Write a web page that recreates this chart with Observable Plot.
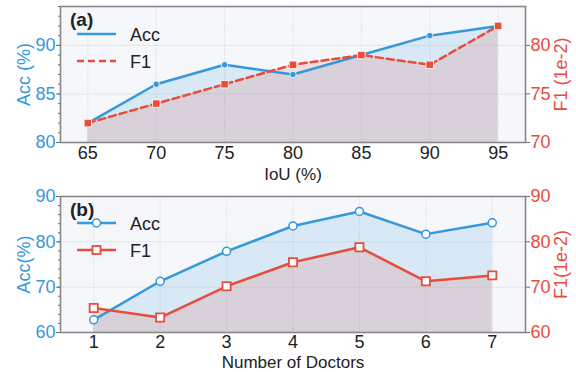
<!DOCTYPE html>
<html>
<head>
<meta charset="utf-8">
<script src="https://cdn.jsdelivr.net/npm/d3@7"></script>
<script src="https://cdn.jsdelivr.net/npm/@observablehq/plot@0.6"></script>
<style>
  html, body { margin: 0; padding: 0; background: white; }
  #chart svg { display: block; }
</style>
</head>
<body>
<div id="chart"></div>
<script>
// ---- Data ----
const iou = [65, 70, 75, 80, 85, 90, 95];
const accA = [82, 86, 88, 87, 89, 91, 92];
const f1A = [72, 74, 76, 78, 79, 78, 82];

const doctors = [1, 2, 3, 4, 5, 6, 7];
const accB = [62.8, 71.3, 77.9, 83.5, 86.7, 81.7, 84.2];
const f1B = [65.4, 63.3, 70.2, 75.5, 78.8, 71.3, 72.6];

const accTicksA = [80, 85, 90];
const f1TicksA = [70, 75, 80];
const accTicksB = [60, 70, 80, 90];
const f1TicksB = [60, 70, 80, 90];

const BLUE = "#3498db";
const RED = "#e74c3c";
const FONT = "'Liberation Sans', Arial, sans-serif";

function panel(o) {
  const data = o.x.map((d, i) => ({x: d, acc: o.acc[i], f1: o.f1[i] + o.f1Offset}));
  const y0 = o.yDomain[0];
  const minor = d3.range(o.yDomain[0], o.yDomain[1] + 0.001, o.minorStep);
  const svg = Plot.plot({
    width: 576,
    height: o.height,
    marginLeft: 60,
    marginRight: 51,
    marginTop: o.marginTop,
    marginBottom: o.marginBottom,
    style: {fontFamily: FONT, fontSize: "18px", background: "white", overflow: "visible"},
    x: {domain: o.xDomain},
    y: {domain: o.yDomain},
    marks: [
      Plot.frame({fill: "#f5f7fa", stroke: null}),
      Plot.gridX(o.x, {stroke: "#dfe3e8", strokeOpacity: 1, strokeDasharray: "2,1"}),
      Plot.gridY(o.accTicks, {stroke: "#e3e6ea", strokeOpacity: 1}),
      Plot.areaY(data, {x: "x", y1: y0, y2: "acc", fill: BLUE, fillOpacity: 0.15}),
      Plot.areaY(data, {x: "x", y1: y0, y2: "f1", fill: RED, fillOpacity: 0.15}),
      Plot.line(data, {x: "x", y: "acc", stroke: BLUE, strokeWidth: 2.5}),
      Plot.line(data, {x: "x", y: "f1", stroke: RED, strokeWidth: 2.5, strokeDasharray: o.dashed ? "7,4" : null}),
      o.hollow
        ? Plot.dot(data, {x: "x", y: "acc", r: 4, fill: "white", stroke: BLUE, strokeWidth: 1.5})
        : Plot.dot(data, {x: "x", y: "acc", r: 3.2, fill: BLUE, stroke: "white", strokeWidth: 0.8}),
      o.hollow
        ? Plot.dot(data, {x: "x", y: "f1", symbol: "square", r: 4.6, fill: "white", stroke: RED, strokeWidth: 1.8})
        : Plot.dot(data, {x: "x", y: "f1", symbol: "square", r: 4.2, fill: RED, stroke: "white", strokeWidth: 0.8}),
      Plot.axisX({ticks: o.x, tickSize: 0, tickPadding: o.xTickPad, fill: "#222", tickFormat: d3.format("d"), label: null}),
      Plot.text([o.xLabel], {frameAnchor: "bottom", dy: o.xLabelDy, lineAnchor: "middle",
                             fontSize: o.xLabelSize, fill: "#222"}),
      Plot.axisY({anchor: "left", ticks: minor, tickSize: 2, stroke: "#666", tickFormat: () => "", label: null}),
      Plot.axisY({anchor: "left", ticks: o.accTicks, tickSize: 4, tickPadding: 1, stroke: "#666", fill: BLUE,
                  label: o.yLabel, labelAnchor: "center", labelOffset: 43, labelArrow: "none"}),
      Plot.axisY({anchor: "right", ticks: o.f1Ticks.map(t => t + o.f1Offset), tickFormat: d => d - o.f1Offset,
                  tickSize: 4, tickPadding: 1, stroke: "#666", fill: RED,
                  label: o.y2Label, labelAnchor: "center", labelOffset: 41, labelArrow: "none"}),
      Plot.frame({stroke: "#888", strokeWidth: 1.6})
    ]
  });
  // legend
  const g = d3.select(svg).append("g").attr("font-family", FONT).attr("text-anchor", "start");
  g.append("text").attr("x", 70).attr("y", o.tagY).attr("font-size", 19).attr("font-weight", "bold")
    .attr("fill", "#222").text(o.tag);
  const items = [
    {label: "Acc", color: BLUE, y: o.legY[0], dash: null, sym: "circle"},
    {label: "F1", color: RED, y: o.legY[1], dash: o.dashed ? "7,4" : null, sym: "square"}
  ];
  for (const it of items) {
    g.append("line").attr("x1", 77).attr("x2", 116).attr("y1", it.y).attr("y2", it.y)
      .attr("stroke", it.color).attr("stroke-width", 2.5).attr("stroke-dasharray", it.dash);
    if (o.hollow) {
      if (it.sym === "circle") {
        g.append("circle").attr("cx", 96.5).attr("cy", it.y).attr("r", 4)
          .attr("fill", "white").attr("stroke", it.color).attr("stroke-width", 1.5);
      } else {
        g.append("rect").attr("x", 92.5).attr("y", it.y - 4).attr("width", 8).attr("height", 8)
          .attr("fill", "white").attr("stroke", it.color).attr("stroke-width", 1.8);
      }
    }
    g.append("text").attr("x", 130).attr("y", it.y + 6.5).attr("font-size", 18)
      .attr("fill", "#222").text(it.label);
  }
  return svg;
}

const chart = document.getElementById("chart");
chart.appendChild(panel({
  x: iou, acc: accA, f1: f1A, xDomain: [63, 97], yDomain: [80, 94], f1Offset: 10,
  accTicks: accTicksA, f1Ticks: f1TicksA, minorStep: 1,
  xLabel: "IoU (%)", yLabel: "Acc (%)", y2Label: "F1 (1e-2)",
  xTickPad: 4, xLabelDy: 32, xLabelSize: 17,
  height: 185, marginTop: 6, marginBottom: 43, hollow: false, dashed: true,
  tag: "(a)", tagY: 26, legY: [34, 61]
}));
chart.appendChild(panel({
  x: doctors, acc: accB, f1: f1B, xDomain: [0.5, 7.5], yDomain: [60, 90], f1Offset: 0,
  accTicks: accTicksB, f1Ticks: f1TicksB, minorStep: 2,
  xLabel: "Number of Doctors", yLabel: "Acc(%)", y2Label: "F1(1e-2)",
  xTickPad: 3, xLabelDy: 30, xLabelSize: 17,
  height: 187, marginTop: 11, marginBottom: 40, hollow: true, dashed: false,
  tag: "(b)", tagY: 31, legY: [38, 65]
}));
</script>
</body>
</html>
